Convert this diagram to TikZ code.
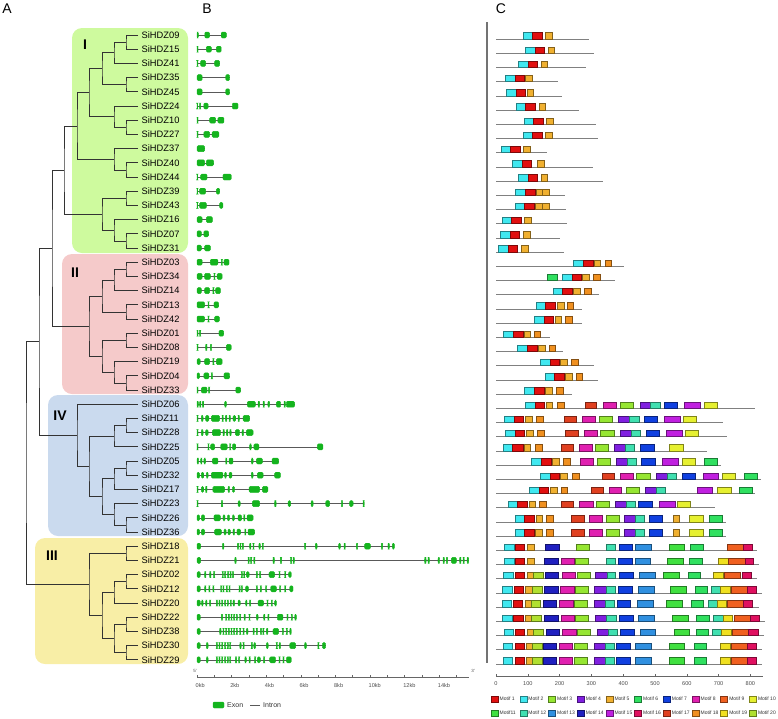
\documentclass[tikz,border=0pt]{standalone}
\usepackage{fontspec}
\setmainfont{Liberation Sans}
\usetikzlibrary{calc}

\definecolor{grpI}{RGB}{206,250,158}
\definecolor{grpII}{RGB}{245,202,202}
\definecolor{grpIII}{RGB}{248,238,166}
\definecolor{grpIV}{RGB}{202,218,238}
\definecolor{exongreen}{RGB}{20,180,30}
\definecolor{m1}{RGB}{225,16,16}
\definecolor{m2}{RGB}{64,232,240}
\definecolor{m3}{RGB}{150,230,50}
\definecolor{m4}{RGB}{128,32,224}
\definecolor{m5}{RGB}{240,176,48}
\definecolor{m6}{RGB}{48,224,96}
\definecolor{m7}{RGB}{16,64,224}
\definecolor{m8}{RGB}{224,32,176}
\definecolor{m9}{RGB}{240,96,32}
\definecolor{m10}{RGB}{230,240,48}
\definecolor{m11}{RGB}{64,224,64}
\definecolor{m12}{RGB}{64,224,176}
\definecolor{m13}{RGB}{48,144,224}
\definecolor{m14}{RGB}{32,32,192}
\definecolor{m15}{RGB}{192,32,224}
\definecolor{m16}{RGB}{224,16,96}
\definecolor{m17}{RGB}{224,64,32}
\definecolor{m18}{RGB}{240,144,32}
\definecolor{m19}{RGB}{240,224,32}
\definecolor{m20}{RGB}{176,224,48}

\tikzset{
  leaf/.style={anchor=west, inner xsep=3.5pt, inner ysep=0pt, font=\fontsize{9.3}{10}\selectfont},
  branch/.style={draw=black!80, line width=.7pt},
  cladelab/.style={font=\fontsize{14}{14}\selectfont\bfseries},
  panel/.style={font=\fontsize{14}{14}\selectfont},
  intron/.style={draw=black!65, line width=.6pt},
  exon/.style={fill=exongreen, draw=exongreen, line width=.4pt, rounded corners=1.2pt},
  protein/.style={draw=black!50, line width=.7pt},
  motif/.style={fill=m#1, draw=m#1!55!black, line width=.35pt},
  scaleline/.style={draw=black!60, line width=.5pt},
  scalelab/.style={font=\fontsize{5.6}{6}\selectfont, text=black!70, inner sep=0pt},
  keylab/.style={font=\fontsize{5}{6}\selectfont, anchor=west, inner sep=0pt, text=black!80},
}

% join two children at depth #2
\newcommand\clade[4]{%
  \path let \p1=(#3), \p2=(#4) in ({#2pt},{0.5*(\y1+\y2)}) coordinate (#1);
  \draw[branch] (#3) -| (#1) |- (#4);}

\begin{document}
\begin{tikzpicture}[x=1pt,y=-1pt]
\useasboundingbox (0,0) rectangle (778,718);

\node[panel] (pA) at (7,9) {A};
\node[panel] (pB) at (207,9) {B};
\node[panel] (pC) at (501,9) {C};

% groups
\fill[grpI, rounded corners=10pt] (72,28) rectangle (188,253);
\fill[grpII, rounded corners=10pt] (62,254) rectangle (188,394);
\fill[grpIV, rounded corners=10pt] (48,395) rectangle (188,536);
\fill[grpIII, rounded corners=10pt] (35,538) rectangle (188,664);
\node[cladelab] (gI) at (85,45) {I};
\node[cladelab] (gII) at (75,273) {II};
\node[cladelab] (gIV) at (60,416) {IV};
\node[cladelab] (gIII) at (52,556) {III};

% tree
\foreach \g [count=\i from 0] in {09,15,41,35,45,24,10,27,37,40,44,39,43,16,07,31,
    03,34,14,13,42,01,08,19,04,33,06,11,28,25,05,32,17,23,26,36,
    18,21,02,12,20,22,38,30,29}
  \node[leaf] (z\g) at (138,{35+14.2*\i}) {SiHDZ\g};

\clade{a1}{126}{z09}{z15}
\clade{a2}{114}{a1}{z41}
\clade{a3}{126}{z35}{z45}
\clade{a4}{102}{a2}{a3}
\clade{a5}{126}{z10}{z27}
\clade{a6}{114}{z24}{a5}
\clade{a7}{89}{a4}{a6}
\clade{a8}{126}{z40}{z44}
\clade{a9}{114}{z37}{a8}
\clade{a10}{77}{a7}{a9}
\clade{a11}{126}{z39}{z43}
\clade{a12}{126}{z07}{z31}
\clade{a13}{114}{z16}{a12}
\clade{a14}{102}{a11}{a13}
\clade{a15}{64}{a10}{a14}
\clade{b1}{126}{z03}{z34}
\clade{b2}{114}{b1}{z14}
\clade{b3}{126}{z13}{z42}
\clade{b4}{102}{b2}{b3}
\clade{b5}{126}{z01}{z08}
\clade{b6}{126}{z04}{z33}
\clade{b7}{114}{z19}{b6}
\clade{b8}{102}{b5}{b7}
\clade{b9}{89}{b4}{b8}
\clade{r1}{52}{a15}{b9}
\clade{d1}{126}{z11}{z28}
\clade{d2}{114}{d1}{z25}
\clade{d3}{126}{z05}{z32}
\clade{d4}{114}{d3}{z17}
\clade{d5}{126}{z26}{z36}
\clade{d6}{114}{z23}{d5}
\clade{d7}{102}{d4}{d6}
\clade{d8}{89}{d2}{d7}
\clade{d9}{77}{z06}{d8}
\clade{r2}{39}{r1}{d9}
\clade{c1}{126}{z18}{z21}
\clade{c2}{126}{z02}{z12}
\clade{c3}{114}{c2}{z20}
\clade{c4}{126}{z22}{z38}
\clade{c5}{126}{z30}{z29}
\clade{c6}{114}{c4}{c5}
\clade{c7}{102}{c3}{c6}
\clade{c8}{89}{c1}{c7}
\clade{r3}{26}{r2}{c8}

% gene structures, kb
\foreach \len/\ex [count=\i from 0] in {
  1.7/{0/0.08,0.45/0.73,1.4/1.7},
  1.4/{0/0.06,0.54/0.83,1.12/1.4},
  1.31/{0/0.05,0.21/0.5,1.02/1.31},
  1.89/{0/0.3,1.66/1.89},
  1.89/{0/0.3,1.66/1.89},
  2.37/{0/0.04,0.15/0.21,0.39/0.64,2.04/2.37},
  1.56/{0/0.06,0.73/1.08,1.21/1.56},
  1.27/{0/0.06,0.4/0.73,0.87/1.27},
  0.44/{0/0.44},
  0.96/{0/0.44,0.54/0.96},
  1.98/{0/0.04,0.21/0.58,1.5/1.98},
  1.31/{0/0.04,0.15/0.5,1.12/1.31},
  1.5/{0/0.04,0.15/0.54,1.31/1.5},
  0.89/{0/0.3,0.54/0.89},
  0.67/{0/0.25,0.39/0.67},
  0.77/{0/0.25,0.44/0.77},
  1.85/{0/0.3,0.77/1.21,1.41/1.46,1.56/1.85},
  1.45/{0/0.3,0.44/0.77,0.98/1.04,1.16/1.45},
  1.35/{0/0.25,0.44/0.73,0.92/0.98,1.08/1.35},
  1.25/{0/0.44,0.64/0.69,0.98/1.25},
  1.29/{0/0.44,0.64/0.69,1.02/1.29},
  1.54/{0/0.06,0.15/0.21,1.27/1.54},
  1.98/{0/0.06,0.5/0.58,0.77/0.85,1.7/1.98},
  1.45/{0/0.19,0.44/0.73,0.92/0.98,1.12/1.45},
  1.89/{0/0.15,0.4/0.69,0.83/0.89,1.56/1.89},
  2.52/{0/0.06,0.25/0.58,0.67/0.73,2.24/2.52},
  5.64/{0/0.08,0.15/0.23,0.31/0.39,1.6/1.7,2.91/3.37,3.53/3.62,3.82/3.89,4.1/4.2,4.59/4.84,5.03/5.11,5.16/5.64},
  3.04/{0/0.06,0.25/0.35,0.5/0.69,0.83/1.31,1.45/1.52,1.64/1.73,1.85/1.93,2.08/2.24,2.37/2.45,2.66/3.04},
  3.24/{0/0.06,0.25/0.35,0.5/0.64,0.89/1.37,1.5/1.58,1.7/1.79,1.89/1.98,2.22/2.47,2.6/2.7,2.85/3.24},
  7.28/{0/0.06,0.64/0.69,0.79/1.02,1.37/1.75,1.89/1.95,2.04/2.24,3.04/3.14,3.29/3.58,6.96/7.28},
  4.72/{0/0.1,0.21/0.29,0.4/0.5,0.89/1.21,1.66/1.73,1.85/2.08,3.14/3.24,3.43/3.78,4.34/4.72},
  4.82/{0/0.15,0.25/0.39,0.54/0.64,0.83/1.5,1.6/1.7,1.85/2.02,3.14/3.24,3.49/3.82,4.49/4.82},
  4.1/{0/0.06,0.25/0.39,0.5/0.58,0.92/1.6,1.79/1.89,2.04/2.18,3.01/3.62,3.78/4.1},
  9.67/{0/0.06,1.41/1.48,2.37/2.5,3.2/3.62,4.49/4.57,5.26/5.41,6.59/6.71,7.44/7.67,8.34/8.42,8.82/9.02,9.6/9.67},
  3.24/{0/0.15,0.25/0.44,0.98/1.35,1.5/1.62,1.75/1.89,2.04/2.16,2.37/2.58,2.7/2.77,2.89/3.24},
  3.33/{0/0.15,0.25/0.44,1.02/1.41,1.56/1.68,1.79/1.93,2.08/2.18,2.31/2.52,2.76/2.83,2.95/3.33},
  11.41/{0/0.21,1.46/1.56,2.33/2.41,2.49/2.54,2.62/2.68,3.04/3.12,3.24/3.29,3.58/3.66,3.78/3.83,6.22/6.28,6.84/6.94,8.19/8.29,8.5/8.57,9.21/9.29,9.69/10.02,10.66/10.73,11.04/11.12,11.29/11.41},
  15.7/{0/0.21,2.18/2.27,2.95/3.02,3.1/3.16,3.28/3.35,4.39/4.47,4.82/4.89,5.41/5.47,5.55/5.63,13.16/13.24,13.35/13.43,13.93/14.03,14.22/14.3,14.41/14.49,14.7/14.99,15.18/15.26,15.38/15.45,15.61/15.7},
  5.45/{0/0.19,0.44/0.52,0.73/0.81,0.96/1.02,1.46/1.52,1.6/1.66,1.77/1.83,1.91/1.97,2.04/2.12,2.56/2.62,2.7/2.76,2.85/3.01,3.43/3.49,3.62/3.68,4.16/4.49,4.74/4.8,5.07/5.13,5.3/5.45},
  5.55/{0/0.19,0.44/0.52,0.69/0.75,0.92/0.98,1.37/1.43,1.5/1.56,1.7/1.75,1.85/1.91,2.43/2.49,2.56/2.62,2.81/2.97,3.43/3.49,3.66/3.72,3.97/4.03,4.26/4.59,4.78/4.84,5.07/5.13,5.36/5.55},
  4.59/{0/0.19,0.27/0.35,0.5/0.58,0.73/0.79,1.12/1.18,1.27/1.33,1.43/1.48,1.6/1.66,1.75/1.81,1.93/1.98,2.08/2.18,2.37/2.5,2.81/2.89,3.04/3.1,3.53/3.85,4.05/4.1,4.3/4.35,4.49/4.59},
  5.74/{0/0.19,1.41/1.48,1.66/1.71,1.81/1.87,1.97/2.02,2.12/2.18,2.27/2.33,2.47/2.52,2.72/2.79,3.01/3.06,3.43/3.53,3.85/3.93,4.1/4.16,4.64/4.97,5.2/5.26,5.45/5.51,5.65/5.74},
  5.45/{0/0.19,1.31/1.39,1.5/1.56,1.66/1.71,1.81/1.87,1.97/2.02,2.12/2.18,2.27/2.33,2.47/2.52,2.66/2.72,2.85/2.95,3.24/3.31,3.43/3.49,3.66/3.74,3.81/3.87,4.01/4.1,4.39/4.72,4.93/4.99,5.16/5.22,5.36/5.45},
  7.44/{0/0.19,0.54/0.64,1.12/1.18,1.27/1.33,1.43/1.48,1.6/1.66,1.75/1.81,1.89/1.95,2.47/2.56,2.66/2.72,3.14/3.2,3.28/3.39,4.01/4.12,4.59/4.64,4.74/4.84,5.36/5.7,6.22/6.32,6.99/7.05,7.24/7.44},
  5.45/{0/0.19,0.54/0.64,1.12/1.18,1.27/1.33,1.43/1.48,1.6/1.66,1.75/1.81,1.89/1.95,2.22/2.29,2.41/2.47,2.76/2.85,3.01/3.08,3.33/3.39,3.49/3.66,3.85/3.91,4.2/4.55,4.74/4.8,4.97/5.03,5.16/5.45}}{
  \pgfmathsetmacro\yy{35+14.2*\i}
  \draw[intron] (197,\yy) -- ({197+17.3*\len},\yy);
  \foreach \s/\e in \ex
    \draw[exon] ({197+17.3*\s},\yy-3) rectangle ({197+17.3*\e},\yy+3);
}

% kb scale
\draw[scaleline] (197,677) -- (469,677);
\foreach \k in {0,...,15}
  \draw[scaleline] ({197+17.3*\k},677) -- ++(0,-2);
\foreach \k in {0,2,...,14}
  \node[scalelab, anchor=west] (kb\k) at ({195.5+17.3*\k},685) {\k kb};
\node[scalelab, font=\fontsize{4.5}{5}\selectfont] (five) at (195,671) {5'};
\node[scalelab, font=\fontsize{4.5}{5}\selectfont] (three) at (473,671) {3'};
\draw[exon] (213,702) rectangle (224,708);
\node[keylab, font=\fontsize{7}{8}\selectfont] (exonkey) at (227,705) {Exon};
\draw[intron] (250,705) -- (260,705);
\node[keylab, font=\fontsize{7}{8}\selectfont] (intronkey) at (263,705) {Intron};

\draw[black!55, line width=1.5pt] (487,22) -- (487,663);

% motifs, aa
\foreach \len/\mot [count=\i from 0] in {
  293/{2/84/114,1/114/144,5/155/177},
  308/{2/92/123,1/123/152,5/164/184},
  282/{2/69/100,1/100/129,5/141/162},
  196/{2/28/59,1/59/88,5/92/114},
  206/{2/32/63,1/63/93,5/97/118},
  261/{2/63/93,1/93/123,5/135/156},
  316/{2/88/118,1/118/148,5/159/181},
  320/{2/85/115,1/115/146,5/156/177},
  161/{2/15/46,1/46/75,5/87/109},
  304/{2/51/82,1/82/112,5/130/151},
  335/{2/69/100,1/100/129,5/141/162},
  217/{2/61/91,1/91/122,5/126/146,5/146/168},
  220/{2/59/89,1/89/119,5/123/145,5/145/166},
  222/{2/18/49,1/49/79,5/90/112},
  201/{2/13/44,1/44/72,5/84/106},
  215/{2/7/39,1/39/68,5/80/101},
  402/{2/243/274,1/274/304,5/308/329,18/342/363},
  373/{6/161/191,2/208/238,1/238/267,5/271/293,18/305/326},
  325/{2/179/209,1/209/239,5/243/264,18/277/298},
  269/{2/126/156,1/156/187,5/191/213,18/223/244},
  269/{2/119/150,1/150/181,5/185/206,18/218/239},
  170/{2/23/53,1/53/84,5/88/109,18/119/139},
  212/{2/68/99,1/99/129,5/132/154,18/166/187},
  308/{2/138/169,1/169/199,5/203/225,18/237/258},
  322/{2/154/184,1/184/214,5/218/240,18/252/272},
  238/{2/89/119,1/119/150,5/154/176,18/189/210},
  813/{2/92/122,1/122/151,5/157/178,18/192/213,17/280/316,8/337/379,3/392/432,4/452/486,12/486/515,7/528/570,15/591/641,10/655/696},
  715/{2/26/56,1/56/87,5/91/113,18/127/148,17/214/252,8/270/312,3/324/366,4/384/418,12/418/449,7/465/508,15/529/580,10/589/631},
  725/{2/30/61,1/61/90,5/95/117,18/131/152,17/219/258,8/276/318,3/329/371,4/390/425,12/425/454,7/471/514,15/534/585,10/594/636},
  665/{2/22/52,1/52/84,5/88/109,18/123/145,17/204/243,8/261/303,3/312/353,4/371/406,12/406/435,7/453/496,10/546/588},
  706/{2/111/143,1/143/173,5/177/198,18/211/232,8/264/305,3/319/358,4/378/413,12/413/442,7/457/500,15/522/573,10/584/626,6/654/694},
  832/{2/138/169,1/169/199,5/203/225,18/238/260,17/333/371,8/390/431,3/442/485,4/505/539,12/539/568,7/584/626,15/650/700,10/711/752,6/780/820},
  815/{2/105/135,1/135/165,5/170/191,18/204/225,17/298/336,8/355/395,3/408/450,4/468/503,12/503/531,15/632/681,10/695/738,6/765/804},
  690/{2/39/67,1/67/97,5/103/124,18/137/159,17/204/244,8/261/304,3/315/357,4/374/409,12/409/438,7/447/490,15/512/562,10/571/612},
  723/{2/60/89,1/89/119,5/125/146,18/159/180,17/236/276,8/292/334,3/347/388,4/402/437,12/437/465,7/482/524,5/556/576,10/608/650,6/671/710},
  723/{2/60/89,1/89/119,5/123/145,18/158/179,17/236/276,8/292/334,3/347/388,4/402/437,12/437/465,7/482/524,5/556/576,10/608/650,6/671/710},
  822/{2/25/56,1/60/90,5/99/121,14/156/198,3/252/294,12/347/376,7/387/429,13/439/489,11/543/592,6/611/650,9/726/778,16/778/806},
  828/{2/25/56,1/60/90,5/99/121,14/152/194,8/204/246,3/250/291,12/347/376,7/384/428,13/437/486,11/539/589,6/609/647,19/699/729,9/729/783,16/783/810},
  820/{2/23/53,1/59/89,5/97/117,20/117/147,14/156/197,8/208/248,3/254/296,4/313/349,12/349/376,7/387/431,13/451/500,11/525/576,6/604/642,19/683/713,9/716/767,16/774/802},
  838/{2/19/50,1/56/86,5/92/113,20/113/144,14/152/194,8/202/245,3/248/290,4/310/346,12/346/375,7/384/428,13/446/496,11/547/597,6/625/663,12/677/706,19/706/735,9/739/790,16/790/818},
  826/{2/18/48,1/53/83,5/91/111,20/111/140,14/148/190,8/199/242,3/246/287,4/309/343,12/343/371,7/380/423,13/444/494,11/534/587,6/613/652,12/667/696,19/696/725,9/727/778,16/778/807},
  847/{2/19/50,1/54/84,5/92/112,20/112/143,14/152/194,8/204/246,3/248/290,4/312/348,12/348/377,7/386/430,13/446/496,11/553/604,6/631/671,12/683/713,19/713/742,9/748/799,16/799/827},
  843/{2/25/54,1/59/88,5/97/117,20/117/147,14/157/199,8/209/252,3/254/296,4/318/353,12/353/381,7/391/434,13/453/502,11/559/609,6/629/668,12/680/709,19/709/739,9/744/794,16/794/824},
  836/{2/22/52,1/59/88,5/94/115,20/115/145,14/148/190,8/198/241,3/245/287,4/308/344,12/344/372,7/379/423,13/438/487,11/544/593,6/623/662,19/705/735,9/739/789,16/789/818},
  836/{2/22/52,1/59/88,5/94/115,20/115/145,14/148/190,8/198/241,3/245/287,4/308/344,12/344/372,7/379/423,13/438/487,11/544/593,6/623/662,19/705/735,9/739/789,16/789/818}}{
  \pgfmathsetmacro\yy{35+14.2*\i}
  \draw[protein] (496,\yy+4.2) -- ({496+0.318*\len},\yy+4.2);
  \foreach \m/\s/\e in \mot
    \draw[motif=\m] ({496+0.318*\s},\yy-2.5) rectangle ({496+0.318*\e},\yy+4);
}

% aa scale
\draw[scaleline] (496,676) -- (763,676);
\foreach \t in {0,100,...,800}{
  \draw[scaleline] ({496+0.318*\t},676) -- ++(0,-2);
  \node[scalelab] (aa\t) at ({496+0.318*\t},683.5) {\t};
}

% motif key
\foreach \k in {1,...,20}{
  \pgfmathtruncatemacro\col{mod(\k-1,10)}
  \pgfmathsetmacro\xx{491+28.7*\col}
  \pgfmathsetmacro\yy{\k>10 ? 713 : 699}
  \draw[motif=\k] (\xx,\yy-3) rectangle ++(7,6);
  \node[keylab] (key\k) at (\xx+8.5,\yy) {\ifnum\k=11 Motif11\else Motif \k\fi};
}
\end{tikzpicture}
\end{document}
